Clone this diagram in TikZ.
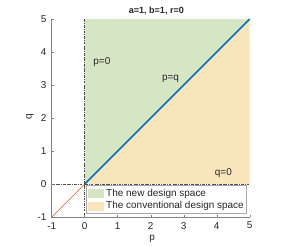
\documentclass[tikz,border=0pt]{standalone}
\usepackage{fontspec}
\setmainfont{Liberation Sans}
\usepackage{tikz}
\usetikzlibrary{positioning}
\definecolor{newspace}{RGB}{214,229,196}
\definecolor{convspace}{RGB}{250,230,189}
\definecolor{lineblue}{RGB}{0,114,189}
\definecolor{linered}{RGB}{217,83,25}
\definecolor{axisgray}{RGB}{130,130,130}
\definecolor{guidegray}{RGB}{80,80,80}

\begin{document}
\begin{tikzpicture}[x=1cm, y=1cm,
    lbl/.style={font=\fontsize{8.6}{10}\selectfont, text=black!85, inner sep=0pt},
    guide/.style={guidegray, line width=0.4pt,
                  dash pattern=on 2.4pt off 1pt on 0.4pt off 1pt}]
    \useasboundingbox (-2.567,-1.848) rectangle (6.25,5.576);

    % --- Regioes: novo e convencional ---
    \fill[newspace]  (0,0) -- (5,5) -- (0,5) -- cycle;
    \fill[convspace] (0,0) -- (5,0) -- (5,5) -- cycle;

    % --- Linhas guia p=0 e q=0 ---
    \draw[guide] (0,-1) -- (0,5);
    \draw[guide] (-1,0) -- (5,0);

    % --- Diagonal p=q ---
    \draw[linered, line width=0.6pt] (-1,-1) -- (0,0);
    \draw[lineblue, line width=1.3pt] (0,0) -- (5,5);

    % --- Eixos e ticks ---
    \draw[axisgray, line width=0.5pt] (-1,5) -- (-1,-1) -- (5,-1);
    \foreach \t in {-1,...,5} {
      \draw[axisgray, line width=0.4pt] (\t,-1) -- (\t,-0.94);
      \draw[axisgray, line width=0.4pt] (-1,\t) -- (-0.94,\t);
      \node[lbl] (xt\t) at (\t,-1.26) {\t};
      \node[lbl, anchor=east] (yt\t) at (-1.15,\t) {\t};
    }
    \node[lbl] (xlabel) at (2.04,-1.67) {p};
    \node[lbl, rotate=90] (ylabel) at (-1.66,2.03) {q};
    \node[lbl, font=\fontsize{7.8}{9}\selectfont\bfseries] (title) at (2.17,5.24) {a=1, b=1, r=0};

    % --- Rotulos das retas ---
    \node[lbl] (pzero) at (0.52,3.71) {p=0};
    \node[lbl] (peqq)  at (2.6,3.2)   {p=q};
    \node[lbl] (qzero) at (4.2,0.32)  {q=0};

    % --- Legenda ---
    \draw[axisgray!70, fill=white, line width=0.4pt] (0.06,-0.03) rectangle (4.89,-0.87);
    \foreach \col/\txt/\yy/\nm in {newspace/The new design space/-0.285/lgnew,
                                  convspace/The conventional design space/-0.675/lgconv} {
      \fill[\col] (0.11,\yy-0.135) rectangle (0.57,\yy+0.135);
      \node[lbl, anchor=west] (\nm) at (0.645,\yy) {\txt};
    }
\end{tikzpicture}
\end{document}
